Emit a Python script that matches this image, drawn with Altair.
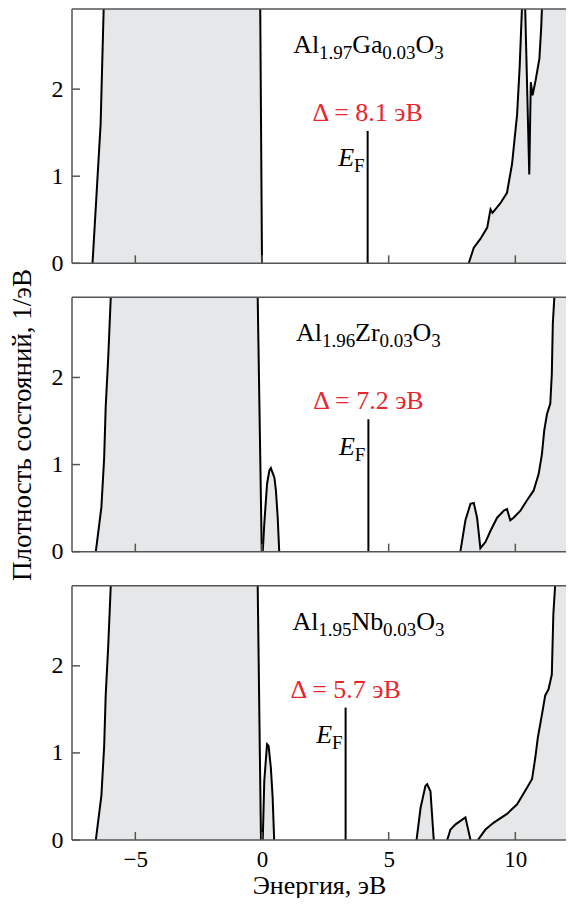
import altair as alt
import pandas as pd

# ---------------- axes / layout ----------------
X_MIN, X_MAX = -7.5, 12.0
Y_MAX = 2.92
x_ticks = [-5, 0, 5, 10]
y_ticks = [0, 1, 2]
TOTAL_W, TOTAL_H = 559, 890
PLOT_W = 496
PXU = 87.0                      # pixels per DOS unit (panel height 254 px)
GAP = 34 / PXU                  # gap between panels, in DOS units
STEP = Y_MAX + GAP
Y_TOTAL = 3 * Y_MAX + 2 * GAP
PX_PER_EV = PLOT_W / (X_MAX - X_MIN)

FONT = "Liberation Serif"
FILL = "#e6e7e8"
FRAME = "#555555"
RED = "#e8262d"

# ---------------- Al1.97Ga0.03O3 ----------------
ga_vb_x = [-6.69, -6.53, -6.37, -6.25, -6.1, -3.0, -0.2, -0.07, 0.0]
ga_vb_y = [0.0, 0.80, 1.60, 2.92, 3.60, 3.60, 3.60, 2.92, 0.0]
ga_cb_x = [8.16, 8.36, 8.62, 8.89, 9.02, 9.10, 9.41, 9.67, 9.87, 10.07, 10.17, 10.26,
           10.32, 10.39, 10.55, 10.61, 10.68, 10.80, 10.95, 11.02, 11.05, 11.20, 12.33]
ga_cb_y = [0.0, 0.18, 0.28, 0.41, 0.62, 0.58, 0.69, 0.81, 1.14, 1.71, 2.25, 2.92,
           3.50, 2.92, 1.02, 2.08, 1.93, 2.10, 2.35, 2.70, 2.92, 3.60, 3.60]
ga_ef = 4.17
ga_gap = "Δ = 8.1 эВ"
ga_formula = ["Al", "1.97", "Ga", "0.03", "O", "3"]

# ---------------- Al1.96Zr0.03O3 ----------------
zr_vb_x = [-6.56, -6.34, -6.23, -6.17, -6.07, -5.97, -5.8, -0.3, -0.17, -0.01]
zr_vb_y = [0.0, 0.51, 1.08, 1.66, 2.23, 2.92, 3.6, 3.6, 2.92, 0.0]
zr_p1_x = [0.03, 0.09, 0.20, 0.29, 0.35, 0.49, 0.55, 0.62, 0.68]
zr_p1_y = [0.0, 0.32, 0.78, 0.93, 0.96, 0.85, 0.70, 0.39, 0.0]
zr_cb_x = [7.83, 8.03, 8.23, 8.36, 8.49, 8.62, 8.82, 9.02, 9.28, 9.54, 9.67, 9.80, 9.93,
           10.20, 10.46, 10.72, 10.92, 11.05, 11.14, 11.25, 11.38, 11.44, 11.48, 11.54,
           11.60, 12.33]
zr_cb_y = [0.0, 0.36, 0.55, 0.56, 0.39, 0.04, 0.11, 0.24, 0.39, 0.47, 0.49, 0.36, 0.39,
           0.47, 0.59, 0.70, 0.89, 1.12, 1.39, 1.58, 1.70, 2.04, 2.62, 2.92,
           3.6, 3.6]
zr_ef = 4.20
zr_gap = "Δ = 7.2 эВ"
zr_formula = ["Al", "1.96", "Zr", "0.03", "O", "3"]

# ---------------- Al1.95Nb0.03O3 ----------------
nb_vb_x = [-6.56, -6.34, -6.23, -6.17, -6.07, -5.97, -5.8, -0.3, -0.17, -0.04]
nb_vb_y = [0.0, 0.51, 1.08, 1.66, 2.23, 2.92, 3.6, 3.6, 2.92, 0.0]
nb_p1_x = [0.03, 0.09, 0.20, 0.26, 0.35, 0.42, 0.48]
nb_p1_y = [0.0, 0.68, 1.10, 1.08, 0.83, 0.49, 0.0]
nb_p2_x = [6.10, 6.26, 6.45, 6.52, 6.65, 6.78]
nb_p2_y = [0.0, 0.37, 0.62, 0.64, 0.56, 0.0]
nb_p3_x = [7.31, 7.44, 7.64, 8.03, 8.23]
nb_p3_y = [0.0, 0.12, 0.18, 0.26, 0.0]
nb_cb_x = [8.52, 8.82, 9.15, 9.67, 10.07, 10.46, 10.66, 10.79, 10.89, 11.05, 11.18,
           11.31, 11.44, 11.50, 11.57, 11.62, 12.33]
nb_cb_y = [0.0, 0.12, 0.20, 0.30, 0.41, 0.60, 0.70, 0.95, 1.18, 1.44, 1.66,
           1.73, 1.90, 2.59, 2.92, 3.6, 3.6]
nb_ef = 3.30
nb_gap = "Δ = 5.7 эВ"
nb_formula = ["Al", "1.95", "Nb", "0.03", "O", "3"]

EF_HEIGHT = 1.52
FORMULA_CENTER = 4.2

panels = [
    dict(off=2 * STEP, segs=[(ga_vb_x, ga_vb_y), (ga_cb_x, ga_cb_y)],
         ef=ga_ef, gap=ga_gap, formula=ga_formula),
    dict(off=1 * STEP, segs=[(zr_vb_x, zr_vb_y), (zr_p1_x, zr_p1_y), (zr_cb_x, zr_cb_y)],
         ef=zr_ef, gap=zr_gap, formula=zr_formula),
    dict(off=0.0, segs=[(nb_vb_x, nb_vb_y), (nb_p1_x, nb_p1_y), (nb_p2_x, nb_p2_y),
                        (nb_p3_x, nb_p3_y), (nb_cb_x, nb_cb_y)],
         ef=nb_ef, gap=nb_gap, formula=nb_formula),
]

# ---------------- text helpers ----------------
M_SIZE, S_SIZE = 26, 19
EM = {'A': 0.722, 'l': 0.278, 'G': 0.722, 'a': 0.444, 'Z': 0.611, 'r': 0.333,
      'N': 0.722, 'b': 0.5, 'O': 0.722, '.': 0.25, 'F': 0.556}


def text_w(s, size):
    return sum(EM.get(c, 0.5) for c in s) * size


def px_down(off, px):
    """DOS-unit y of a point px pixels below the top of a panel."""
    return off + Y_MAX - px / PXU


# ---------------- build tables ----------------
area_rows, line_rows = [], []
ef_rows, xt_rows, yt_rows, fh_rows, fv_rows = [], [], [], [], []
fm_rows, fs_rows, gap_rows, e_rows, f_rows = [], [], [], [], []

for p, pan in enumerate(panels):
    off = pan["off"]
    for s, (xs, ys) in enumerate(pan["segs"]):
        piece = 0
        prev_ok = False
        for i, (a, b) in enumerate(zip(xs, ys)):
            area_rows.append({"key": f"{p}-{s}", "i": i, "E": a, "D": b, "off": off})
            if b <= Y_MAX:
                if not prev_ok:
                    piece += 1
                line_rows.append({"key": f"{p}-{s}-{piece}", "i": i, "E": a, "D": b,
                                  "off": off})
                prev_ok = True
            else:
                prev_ok = False
    ef = pan["ef"]
    ef_rows.append({"E": ef, "Y": off, "Y2": off + EF_HEIGHT})
    for t in x_ticks:
        xt_rows.append({"E": t, "Y": off, "Y2": off + 8 / PXU})
    for v in y_ticks:
        yt_rows.append({"Y": off + v})
    fh_rows += [{"E": X_MIN, "E2": X_MAX, "Y": off},
                {"E": X_MIN, "E2": X_MAX, "Y": off + Y_MAX}]
    fv_rows.append({"Y": off, "Y2": off + Y_MAX})

    # formula with subscripts, centred at FORMULA_CENTER
    form = pan["formula"]
    sizes = [M_SIZE if k % 2 == 0 else S_SIZE for k in range(len(form))]
    widths = [text_w(t, z) for t, z in zip(form, sizes)]
    start = FORMULA_CENTER - sum(widths) / 2 / PX_PER_EV
    acc = 0.0
    for k, (t, w) in enumerate(zip(form, widths)):
        e = start + acc / PX_PER_EV
        if k % 2 == 0:
            fm_rows.append({"E": e, "Y": px_down(off, 44), "t": t})
        else:
            fs_rows.append({"E": e, "Y": px_down(off, 50), "t": t})
        acc += w
    gap_rows.append({"E": ef, "Y": px_down(off, 112), "t": pan["gap"]})
    fw = text_w("F", S_SIZE)
    e_rows.append({"E": ef - (3 + fw) / PX_PER_EV, "Y": px_down(off, 157), "t": "E"})
    f_rows.append({"E": ef - 3 / PX_PER_EV, "Y": px_down(off, 163), "t": "F"})

o1, o2 = STEP, 2 * STEP
label_expr = (f"format(abs(datum.value - (datum.value > {o2 - 0.5} ? {o2} : "
              f"(datum.value > {o1 - 0.5} ? {o1} : 0))), '.0f')")
y_values = [pan["off"] + v for pan in panels for v in y_ticks]

xsc = alt.Scale(domain=[X_MIN, X_MAX], nice=False, zero=False)
ysc = alt.Scale(domain=[0, Y_TOTAL], nice=False, zero=False)
xax = alt.Axis(values=x_ticks, ticks=False, grid=False, domain=False,
               labelFont=FONT, labelFontSize=23, labelColor="black", labelPadding=8,
               title="Энергия, эВ", titleFont=FONT, titleFontSize=26,
               titleFontWeight="normal", titleColor="black", titlePadding=1)
yax = alt.Axis(values=y_values, labelExpr=label_expr, ticks=False, grid=False,
               domain=False, labelFont=FONT, labelFontSize=24, labelColor="black",
               labelPadding=9, minExtent=21, maxExtent=21,
               title="Плотность состояний, 1/эВ", titleFont=FONT, titleFontSize=27,
               titleFontWeight="normal", titleColor="black", titlePadding=15)

area_df = pd.DataFrame(area_rows)
area_df["Y"] = area_df["D"].clip(upper=Y_MAX) + area_df["off"]

area = alt.Chart(area_df).mark_area(color=FILL, clip=True, opacity=1).encode(
    x=alt.X("E:Q", scale=xsc, axis=xax),
    y=alt.Y("Y:Q", scale=ysc, axis=yax, stack=None),
    y2="off:Q", detail="key:N")

line_df = pd.DataFrame(line_rows)
line_df["Y"] = line_df["D"] + line_df["off"]
line = alt.Chart(line_df).mark_line(color="black", strokeWidth=2, clip=True).encode(
    x="E:Q", y="Y:Q", detail="key:N", order="i:Q")

ef_rule = alt.Chart(pd.DataFrame(ef_rows)).mark_rule(
    color="black", strokeWidth=2).encode(x="E:Q", y="Y:Q", y2="Y2:Q")
xt = alt.Chart(pd.DataFrame(xt_rows)).mark_rule(
    color=FRAME, strokeWidth=1.5).encode(x="E:Q", y="Y:Q", y2="Y2:Q")
yt = alt.Chart(pd.DataFrame(yt_rows)).mark_rule(
    color=FRAME, strokeWidth=1.5).encode(y="Y:Q", x=alt.value(0), x2=alt.value(8))
fh = alt.Chart(pd.DataFrame(fh_rows)).mark_rule(
    color=FRAME, strokeWidth=1.5).encode(x="E:Q", x2="E2:Q", y="Y:Q")
fv = alt.Chart(pd.DataFrame(fv_rows)).mark_rule(
    color=FRAME, strokeWidth=1.5).encode(x=alt.value(0), y="Y:Q", y2="Y2:Q")

f_main = alt.Chart(pd.DataFrame(fm_rows)).mark_text(
    font=FONT, fontSize=M_SIZE, align="left", baseline="alphabetic",
    color="black").encode(x="E:Q", y="Y:Q", text="t:N")
f_sub = alt.Chart(pd.DataFrame(fs_rows)).mark_text(
    font=FONT, fontSize=S_SIZE, align="left", baseline="alphabetic",
    color="black").encode(x="E:Q", y="Y:Q", text="t:N")
gap_t = alt.Chart(pd.DataFrame(gap_rows)).mark_text(
    font=FONT, fontSize=26, align="center", baseline="alphabetic",
    color=RED).encode(x="E:Q", y="Y:Q", text="t:N")
e_t = alt.Chart(pd.DataFrame(e_rows)).mark_text(
    font=FONT, fontSize=26, fontStyle="italic", align="right",
    baseline="alphabetic", color="black").encode(x="E:Q", y="Y:Q", text="t:N")
f_t = alt.Chart(pd.DataFrame(f_rows)).mark_text(
    font=FONT, fontSize=S_SIZE, align="right", baseline="alphabetic",
    color="black").encode(x="E:Q", y="Y:Q", text="t:N")

chart = alt.layer(
    area, line, ef_rule, xt, yt, fh, fv, f_main, f_sub, gap_t, e_t, f_t
).properties(
    width=TOTAL_W, height=TOTAL_H,
    autosize=alt.AutoSizeParams(type="fit", contains="padding"),
    padding={"left": 0, "top": 0, "right": 0, "bottom": 0},
    background="white"
).configure_view(stroke=None).configure_text(font=FONT)

chart.save("out.html", embed_options={"renderer": "svg", "actions": False})
